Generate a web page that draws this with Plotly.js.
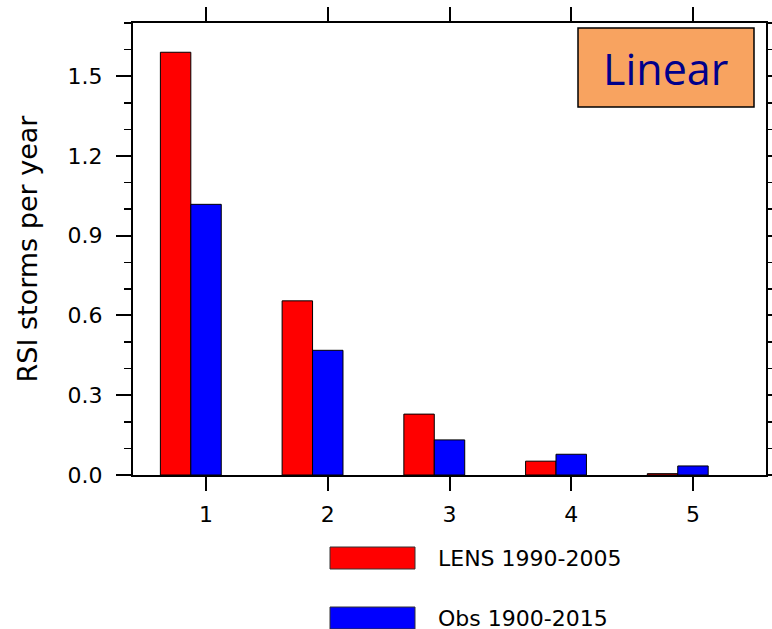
<!DOCTYPE html>
<html>
<head>
<meta charset="utf-8">
<script src="https://cdn.plot.ly/plotly-3.0.1.min.js"></script>
<style>
  html, body { margin: 0; padding: 0; background: #fff; }
  #chart { width: 772px; height: 629px; }
</style>
</head>
<body>
<div id="chart"></div>
<script>
// RSI storm categories and annual storm frequencies
const categories = [1, 2, 3, 4, 5];
const seriesNames = ["LENS 1990-2005", "Obs 1900-2015"];
const lensValues = [1.59, 0.655, 0.229, 0.052, 0.005];
const obsValues = [1.018, 0.469, 0.132, 0.078, 0.034];
const seriesColors = ["#ff0000", "#0000ff"];
const yTickValues = [0, 0.3, 0.6, 0.9, 1.2, 1.5];
const panelLabel = "Linear";

const labelFont = { family: "DejaVu Sans, sans-serif", size: 22, color: "#000" };

const traces = [
  {
    type: "bar", name: seriesNames[0], x: categories, y: lensValues,
    width: 0.25, offset: -0.375,
    marker: { color: seriesColors[0], line: { color: "#000", width: 1 } },
    showlegend: false, hoverinfo: "x+y"
  },
  {
    type: "bar", name: seriesNames[1], x: categories, y: obsValues,
    width: 0.25, offset: -0.125,
    marker: { color: seriesColors[1], line: { color: "#000", width: 1 } },
    showlegend: false, hoverinfo: "x+y"
  }
];

// Legend drawn as swatches below the plot
const legendShapes = seriesNames.map((n, i) => ({
  type: "rect", xref: "paper", yref: "paper",
  x0: (330 - 133) / 633, x1: (415 - 133) / 633,
  y0: (475 - (569 + i * 60)) / 452, y1: (475 - (547 + i * 60)) / 452,
  fillcolor: seriesColors[i], line: { color: "#333", width: 1 }
}));
const legendLabels = seriesNames.map((n, i) => ({
  text: n, xref: "paper", yref: "paper",
  x: (436 - 133) / 633, y: (475 - (558 + i * 60)) / 452,
  xanchor: "left", yanchor: "middle", showarrow: false,
  font: labelFont
}));

const layout = {
  width: 772, height: 629,
  margin: { l: 133, r: 6, t: 23, b: 154 },
  paper_bgcolor: "#fff", plot_bgcolor: "#fff",
  barmode: "overlay",
  showlegend: false,
  xaxis: {
    range: [0.4, 5.6],
    tickvals: categories, ticktext: categories.map(String),
    ticks: "outside", ticklen: 14, tickwidth: 2, tickcolor: "#000",
    showline: true, linecolor: "#000", linewidth: 2, mirror: "ticks",
    showgrid: false, zeroline: false,
    tickfont: labelFont, ticklabelstandoff: 5
  },
  yaxis: {
    range: [0, 1.7],
    tickvals: yTickValues, tickformat: ".1f",
    ticks: "outside", ticklen: 15, tickwidth: 2, tickcolor: "#000",
    minor: { dtick: 0.1, ticks: "outside", ticklen: 7, tickwidth: 1.5, tickcolor: "#000", showgrid: false },
    showline: true, linecolor: "#000", linewidth: 2, mirror: "ticks",
    showgrid: false, zeroline: false,
    tickfont: labelFont, ticklabelstandoff: 9,
    title: { text: "RSI storms per year", font: { family: "DejaVu Sans, sans-serif", size: 27, color: "#000" }, standoff: 22 }
  },
  shapes: [
    {
      type: "rect", xref: "paper", yref: "paper",
      x0: (578 - 133) / 633, x1: (754 - 133) / 633,
      y0: (475 - 107) / 452, y1: (475 - 28) / 452,
      fillcolor: "#f8a360", line: { color: "#000", width: 1.5 }
    }
  ].concat(legendShapes),
  annotations: [
    {
      text: panelLabel, xref: "paper", yref: "paper",
      x: (665 - 133) / 633, y: (475 - 68) / 452,
      xanchor: "center", yanchor: "middle", showarrow: false,
      font: { family: "Open Sans, Noto Sans, sans-serif", size: 43, color: "#00008b" }
    }
  ].concat(legendLabels)
};

Plotly.newPlot("chart", traces, layout, { displayModeBar: false, staticPlot: true });
</script>
</body>
</html>
